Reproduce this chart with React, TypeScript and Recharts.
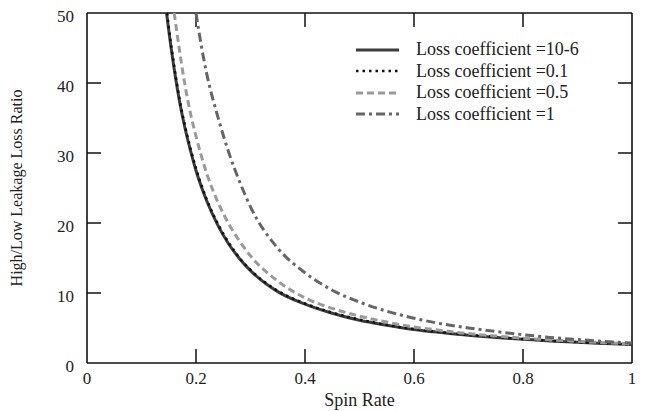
import React from 'react'
import { LineChart, Line, XAxis, YAxis, Legend, ReferenceLine } from 'recharts'

// values
const lossNames = ['Loss coefficient =10-6', 'Loss coefficient =0.1', 'Loss coefficient =0.5', 'Loss coefficient =1']

const spinSolid = [0.146, 0.15, 0.16, 0.17, 0.18, 0.19, 0.2, 0.22, 0.24, 0.26, 0.28, 0.3, 0.35, 0.4, 0.45, 0.5, 0.55, 0.6, 0.65, 0.7, 0.75, 0.8, 0.85, 0.9, 0.95, 1.0]
const ratioSolid = [50, 47.5, 42, 37.3, 33.5, 30.3, 27.5, 23.1, 19.7, 17, 14.9, 13.2, 10.2, 8.4, 7.1, 6.1, 5.4, 4.8, 4.35, 3.95, 3.65, 3.4, 3.15, 2.95, 2.8, 2.65]

const spinDotted = [0.147, 0.15, 0.16, 0.17, 0.18, 0.19, 0.2, 0.22, 0.24, 0.26, 0.28, 0.3, 0.35, 0.4, 0.45, 0.5, 0.55, 0.6, 0.65, 0.7, 0.75, 0.8, 0.85, 0.9, 0.95, 1.0]
const ratioDotted = [50, 48, 42.4, 37.6, 33.8, 30.6, 27.8, 23.3, 19.9, 17.2, 15.0, 13.3, 10.3, 8.5, 7.2, 6.2, 5.45, 4.85, 4.4, 4.0, 3.7, 3.42, 3.18, 2.97, 2.82, 2.67]

const spinDashed = [0.16, 0.17, 0.18, 0.19, 0.2, 0.22, 0.24, 0.26, 0.28, 0.3, 0.35, 0.4, 0.45, 0.5, 0.55, 0.6, 0.65, 0.7, 0.75, 0.8, 0.85, 0.9, 0.95, 1.0]
const ratioDashed = [50, 44.5, 39.6, 35.6, 32.4, 27, 23, 19.9, 17.4, 15.3, 11.7, 9.3, 7.8, 6.7, 5.85, 5.15, 4.65, 4.2, 3.85, 3.55, 3.3, 3.1, 2.9, 2.75]

const spinDashDot = [0.2, 0.21, 0.22, 0.24, 0.26, 0.28, 0.3, 0.35, 0.4, 0.45, 0.5, 0.55, 0.6, 0.65, 0.7, 0.75, 0.8, 0.85, 0.9, 0.95, 1.0]
const ratioDashDot = [50, 45.2, 41.2, 35.2, 30.1, 25.9, 22.3, 16.4, 12.9, 10.4, 8.7, 7.4, 6.4, 5.6, 5.0, 4.5, 4.05, 3.65, 3.35, 3.08, 2.85]

const xTicks = [0, 0.2, 0.4, 0.6, 0.8, 1]
const yTicks = [0, 10, 20, 30, 40, 50]
const xInner = [0.2, 0.4, 0.6, 0.8]
const yInner = [10, 20, 30, 40]

const zip = (xs: number[], ys: number[]) => xs.map((x, i) => ({ x, y: ys[i] }))

const series = [
  { name: lossNames[0], data: zip(spinSolid, ratioSolid), stroke: '#3c3c3c', dash: undefined, width: 3 },
  { name: lossNames[1], data: zip(spinDotted, ratioDotted), stroke: '#111111', dash: '2.5 4', width: 2.5 },
  { name: lossNames[2], data: zip(spinDashed, ratioDashed), stroke: '#9a9a9a', dash: '7 4', width: 3 },
  { name: lossNames[3], data: zip(spinDashDot, ratioDashDot), stroke: '#666666', dash: '9 4 3 4', width: 3 },
]

const FONT = 'Liberation Serif'
const INK = '#222'
const FRAME = '#111'
// inward tick length, in data units (about 14px each way)
const X_TICK = 0.0257
const Y_TICK = 2

function BottomTick({ x, y, payload }: any) {
  return (
    <text x={x} y={y} dy="0.35em" textAnchor="middle" fontFamily={FONT} fontSize={17} fill={INK}>
      {payload.value}
    </text>
  )
}

function LeftTick({ x, y, payload }: any) {
  return (
    <text x={x} y={y} dy="0.5em" textAnchor="end" fontFamily={FONT} fontSize={17} fill={INK}>
      {payload.value}
    </text>
  )
}

function LossLegend() {
  return (
    <div style={{ fontFamily: FONT, fontSize: 18, color: INK }}>
      {series.map((s) => (
        <div key={s.name} style={{ display: 'flex', alignItems: 'center', height: 21.5, whiteSpace: 'nowrap' }}>
          <svg width={45} height={8} style={{ marginRight: 16 }}>
            <line x1={1} x2={44} y1={4} y2={4} stroke={s.stroke} strokeWidth={s.width} strokeDasharray={s.dash} />
          </svg>
          <span>{s.name}</span>
        </div>
      ))}
    </div>
  )
}

const frameLine = { stroke: FRAME, strokeWidth: 1.6 }
const tickLine = { stroke: FRAME, strokeWidth: 1.5 }

export default function App() {
  return (
    <div style={{ position: 'absolute', left: 0, top: 0, background: '#fff' }}>
      <LineChart width={647} height={411} margin={{ top: 13, right: 15, bottom: 0, left: 0 }}>
        <XAxis
          xAxisId="bottom"
          type="number"
          dataKey="x"
          domain={[0, 1]}
          ticks={xTicks}
          height={48}
          tickSize={0}
          tickMargin={15}
          tickLine={false}
          tick={BottomTick}
          axisLine={frameLine}
          label={{ value: 'Spin Rate', position: 'insideBottom', offset: 5, style: { fontFamily: FONT, fontSize: 18, fill: INK } }}
        />
        <YAxis
          yAxisId="left"
          type="number"
          domain={[0, 50]}
          ticks={yTicks}
          width={87}
          tickSize={0}
          tickMargin={13}
          tickLine={false}
          tick={LeftTick}
          axisLine={frameLine}
          label={{
            value: 'High/Low Leakage Loss Ratio',
            angle: -90,
            position: 'insideLeft',
            offset: 16,
            style: { textAnchor: 'middle', fontFamily: FONT, fontSize: 16, fill: INK },
          }}
        />
        <ReferenceLine xAxisId="bottom" yAxisId="left" y={50} {...frameLine} />
        <ReferenceLine xAxisId="bottom" yAxisId="left" x={1} {...frameLine} />
        {xInner.map((v) => (
          <ReferenceLine key={`b${v}`} xAxisId="bottom" yAxisId="left" segment={[{ x: v, y: 0 }, { x: v, y: Y_TICK }]} {...tickLine} />
        ))}
        {xInner.map((v) => (
          <ReferenceLine key={`t${v}`} xAxisId="bottom" yAxisId="left" segment={[{ x: v, y: 50 }, { x: v, y: 50 - Y_TICK }]} {...tickLine} />
        ))}
        {yInner.map((v) => (
          <ReferenceLine key={`l${v}`} xAxisId="bottom" yAxisId="left" segment={[{ x: 0, y: v }, { x: X_TICK, y: v }]} {...tickLine} />
        ))}
        {yInner.map((v) => (
          <ReferenceLine key={`r${v}`} xAxisId="bottom" yAxisId="left" segment={[{ x: 1, y: v }, { x: 1 - X_TICK, y: v }]} {...tickLine} />
        ))}
        <Legend
          layout="vertical"
          align="center"
          verticalAlign="middle"
          content={<LossLegend />}
          wrapperStyle={{ top: 39, left: 355, width: 280 }}
        />
        {series.map((s) => (
          <Line
            key={s.name}
            xAxisId="bottom"
            yAxisId="left"
            data={s.data}
            dataKey="y"
            name={s.name}
            type="monotone"
            stroke={s.stroke}
            strokeWidth={s.width}
            strokeDasharray={s.dash}
            dot={false}
            activeDot={false}
            isAnimationActive={false}
          />
        ))}
      </LineChart>
    </div>
  )
}
